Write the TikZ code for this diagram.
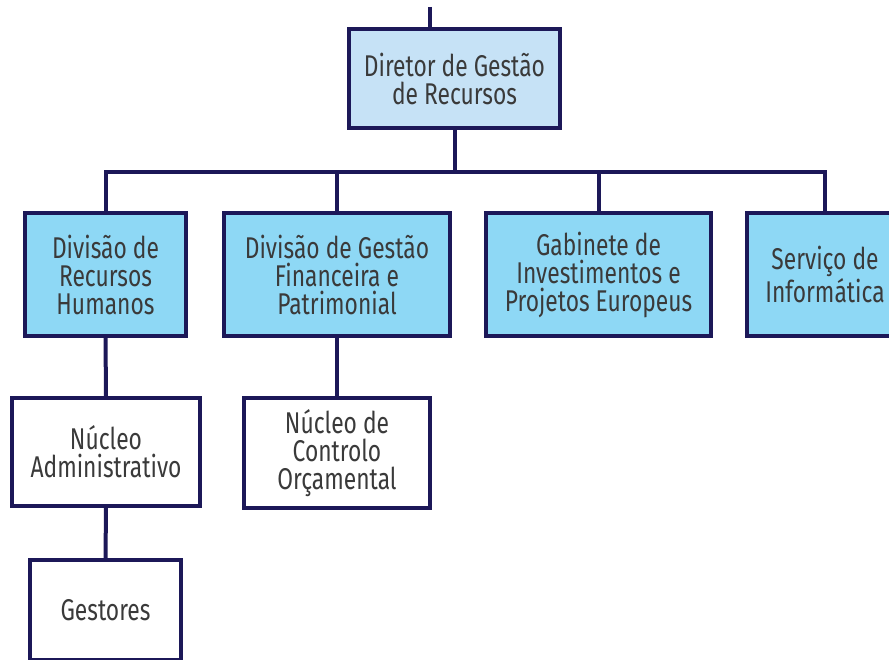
\documentclass[tikz,border=0pt]{standalone}
\usepackage{fontspec}
\setmainfont[FakeStretch=0.76]{Fira Sans}
\definecolor{navy}{RGB}{28,24,88}
\definecolor{txt}{RGB}{58,58,58}
\definecolor{dirfill}{RGB}{198,226,246}
\definecolor{divfill}{RGB}{142,216,245}
\tikzset{
  box/.style={draw=navy, line width=4pt, align=center, text=txt, inner sep=0pt,
    font=\fontsize{30}{28}\selectfont, anchor=center},
  link/.style={draw=navy, line width=4pt},
}
\begin{document}
\begin{tikzpicture}[x=1pt,y=-1pt]
\useasboundingbox (0,0) rectangle (889,660);
\clip (0,0) rectangle (889,660);
\node[box, fill=dirfill, minimum width=211pt, minimum height=99pt] (dir) at (454.5,78.5) {Diretor de Gestão\\de Recursos};
\node[box, fill=divfill, minimum width=161pt, minimum height=123pt] (b1) at (105.5,274.5) {Divisão de\\Recursos\\Humanos};
\node[box, fill=divfill, minimum width=226pt, minimum height=123pt] (b2) at (337,274.5) {Divisão de Gestão\\Financeira e\\Patrimonial};
\node[box, fill=divfill, minimum width=225pt, minimum height=123pt] (b3) at (598.5,274.5) {Gabinete de\\Investimentos e\\Projetos Europeus};
\node[box, fill=divfill, minimum width=156pt, minimum height=123pt] (b4) at (825,274.5) {Serviço de\\Informática};
\node[box, fill=white, minimum width=188pt, minimum height=108pt] (na) at (106,452) {Núcleo\\Administrativo};
\node[box, fill=white, minimum width=186pt, minimum height=110pt] (nc) at (337,453) {Núcleo de\\Controlo\\Orçamental};
\node[box, fill=white, minimum width=151pt, minimum height=100pt] (ge) at (105.5,610) {Gestores};
\coordinate (top) at (430,7);
\coordinate (bar) at (0,172);
\draw[link] (top) -- (top |- dir.north);
\draw[link] (dir.south) -- (dir.south |- bar);
\draw[link] (b1.north) -- (b1.north |- bar) -- (b4.north |- bar) -- (b4.north);
\draw[link] (b2.north |- bar) -- (b2.north);
\draw[link] (b3.north |- bar) -- (b3.north);
\draw[link] (b1.south) -- (na.north);
\draw[link] (b2.south) -- (nc.north);
\draw[link] (na.south) -- (ge.north);
\end{tikzpicture}
\end{document}
